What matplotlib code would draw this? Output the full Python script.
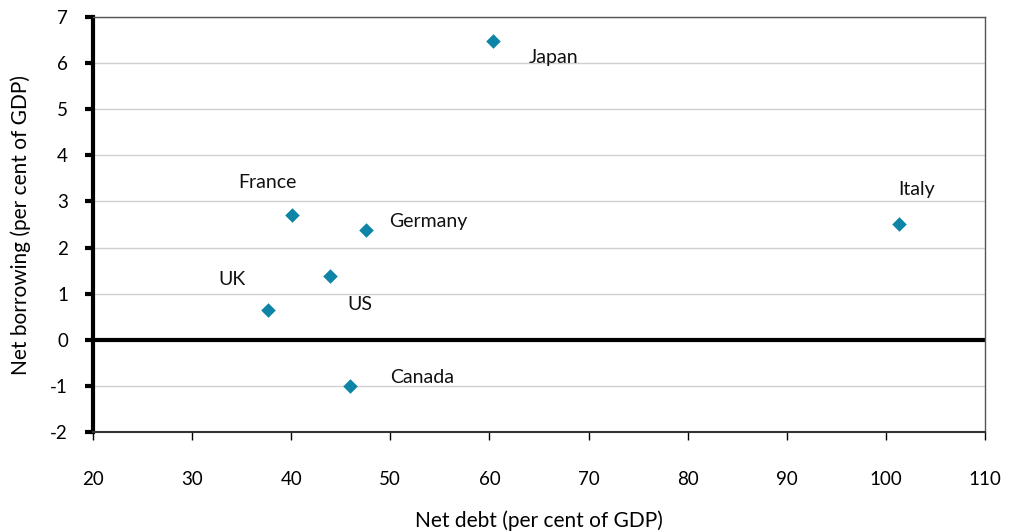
import matplotlib
matplotlib.use("Agg")
import matplotlib.pyplot as plt

countries = ['Japan', 'Italy', 'France', 'Germany', 'US', 'UK', 'Canada']
net_debt = [60.4, 101.3, 40.1, 47.5, 43.9, 37.7, 45.9]
net_borrowing = [6.47, 2.52, 2.7, 2.39, 1.38, 0.65, -1.0]
# label offsets in pixels (dx, dy)
label_offsets = [(35, -16), (0, 34), (-54, 33), (24, 8), (18, -28), (-50, 30), (40, 8)]

plt.rcParams['font.family'] = ['Lato', 'DejaVu Sans']

fig = plt.figure(figsize=(10.15, 5.32), dpi=100)
ax = fig.add_axes([0.0916, 0.188, 0.8788, 0.780])

ax.set_xlim(20, 110)
ax.set_ylim(-2, 7)
ax.set_xticks(range(20, 111, 10))
ax.set_yticks(range(-2, 8))
ax.set_yticklabels([str(v) for v in range(-2, 8)])

ax.grid(axis='y', color='#d0d0d0', linewidth=1)
ax.set_axisbelow(True)
ax.axhline(0, color='black', linewidth=3, zorder=2)

ax.scatter(net_debt, net_borrowing, marker='D', s=55, color='#0e84a6', zorder=3, linewidths=0)

for name, x, y, off in zip(countries, net_debt, net_borrowing, label_offsets):
    ax.annotate(name, (x, y), xytext=off, textcoords='offset pixels',
                ha='left', va='center', fontsize=14, color='#111111')

for s in ['top', 'right']:
    ax.spines[s].set_color('#555555')
    ax.spines[s].set_linewidth(1)
ax.spines['left'].set_linewidth(3)
ax.spines['left'].set_color('black')
ax.spines['bottom'].set_linewidth(1.5)
ax.spines['bottom'].set_color('#333333')

ax.tick_params(axis='y', direction='out', length=6, width=3, pad=12, labelsize=13.5)
ax.tick_params(axis='x', direction='out', length=6, width=1, pad=22, labelsize=13.5)

ax.set_xlabel('Net debt (per cent of GDP)', fontsize=15, labelpad=16)
ax.set_ylabel('Net borrowing (per cent of GDP)', fontsize=15, labelpad=14)

fig.savefig('out.png', dpi=100)
